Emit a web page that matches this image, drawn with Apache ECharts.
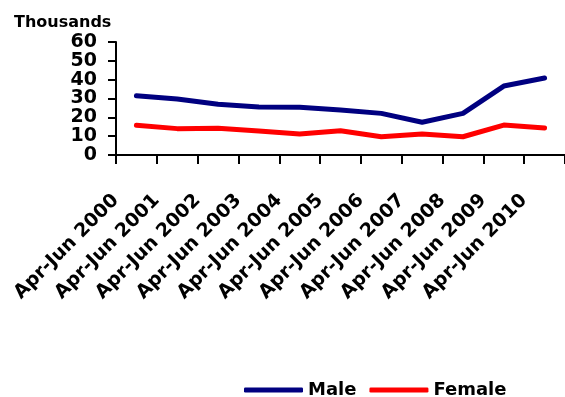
<!DOCTYPE html>
<html>
<head>
<meta charset="utf-8">
<script src="https://cdn.jsdelivr.net/npm/echarts@6/dist/echarts.min.js"></script>
<style>html,body{margin:0;padding:0;background:#fff}#c{width:565px;height:397px}</style>
</head>
<body>
<div id="c"></div>
<script>
var categories = ['Apr-Jun 2000','Apr-Jun 2001','Apr-Jun 2002','Apr-Jun 2003','Apr-Jun 2004','Apr-Jun 2005','Apr-Jun 2006','Apr-Jun 2007','Apr-Jun 2008','Apr-Jun 2009','Apr-Jun 2010'];
var maleValues = [31.5, 29.7, 26.9, 25.5, 25.3, 23.9, 22.1, 17.4, 22.1, 36.6, 40.9];
var femaleValues = [15.8, 14.0, 14.2, 12.7, 11.2, 12.9, 9.7, 11.2, 9.7, 15.9, 14.3];
var yTicks = [0, 10, 20, 30, 40, 50, 60];

var FONT = 'DejaVu Sans';
var chart = echarts.init(document.getElementById('c'), null, {renderer: 'canvas'});
chart.setOption({
  animation: false,
  backgroundColor: '#fff',
  title: {
    text: 'Thousands', left: 9, top: 10,
    textStyle: {fontFamily: FONT, fontWeight: 'bold', fontSize: 16, color: '#000'}
  },
  legend: {
    left: 239, top: 376,
    itemWidth: 59, itemHeight: 5, itemGap: 13,
    icon: 'roundRect',
    textStyle: {fontFamily: FONT, fontWeight: 'bold', fontSize: 18, color: '#000'},
    data: ['Male', 'Female']
  },
  grid: {left: 116, top: 42, right: -2, bottom: 242, containLabel: false},
  xAxis: {
    type: 'category', data: categories, boundaryGap: true,
    axisLine: {lineStyle: {color: '#000', width: 2}},
    axisTick: {show: true, length: 9, lineStyle: {color: '#000', width: 2}, alignWithLabel: false},
    axisLabel: {interval: 0, rotate: 45, margin: 22, padding: [0, 29, 0, 0],
      fontFamily: FONT, fontWeight: 'bold', fontSize: 19, color: '#000'},
    splitLine: {show: false}
  },
  yAxis: {
    type: 'value', min: yTicks[0], max: yTicks[yTicks.length - 1], interval: 10,
    axisLine: {show: true, lineStyle: {color: '#000', width: 2}},
    axisTick: {show: true, length: 8, lineStyle: {color: '#000', width: 2}},
    axisLabel: {margin: 19, fontFamily: FONT, fontWeight: 'bold', fontSize: 19, color: '#000'},
    splitLine: {show: false}
  },
  series: [
    {name: 'Male', type: 'line', data: maleValues, showSymbol: false, symbol: 'none',
     itemStyle: {color: '#000080'}, lineStyle: {color: '#000080', width: 5, cap: 'round', join: 'round'}},
    {name: 'Female', type: 'line', data: femaleValues, showSymbol: false, symbol: 'none',
     itemStyle: {color: '#ff0000'}, lineStyle: {color: '#ff0000', width: 5, cap: 'round', join: 'round'}}
  ]
});
</script>
</body>
</html>
